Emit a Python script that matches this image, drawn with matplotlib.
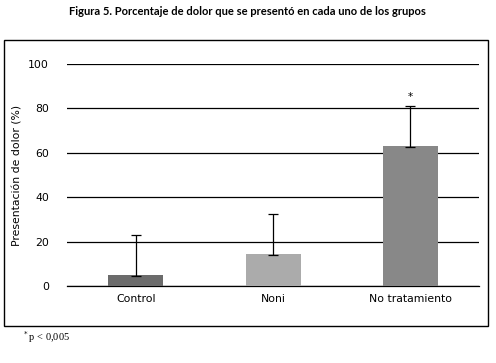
#!/usr/bin/env python3
import matplotlib.pyplot as plt
from matplotlib.patches import Rectangle
import numpy as np

groups = ["Control", "Noni", "No tratamiento"]
pain_pct = [5.0, 14.5, 63.0]
err_low = [0.5, 0.5, 0.5]
err_high = [18.0, 18.0, 18.0]
bar_colors = ["#6b6b6b", "#ababab", "#888888"]
yticks = [0, 20, 40, 60, 80, 100]

fig = plt.figure(figsize=(4.96, 3.63), dpi=100)

# outer frame around the chart
fig.patches.append(Rectangle((0.008, 0.102), 0.976, 0.788, transform=fig.transFigure,
                             fill=False, edgecolor="black", linewidth=1.0))

ax = fig.add_axes([0.135, 0.212, 0.831, 0.612])
x = np.arange(len(groups))
ax.bar(x, pain_pct, width=0.4, color=bar_colors, zorder=3,
       yerr=[err_low, err_high], capsize=3.5,
       error_kw=dict(ecolor="black", elinewidth=0.9, capthick=0.9, zorder=4))

ax.set_xlim(-0.5, len(groups) - 0.5)
ax.set_ylim(0, 100)
ax.set_yticks(yticks)
ax.yaxis.grid(True, color="black", linewidth=0.9, zorder=0)
ax.set_axisbelow(True)
for side in ["left", "right", "top"]:
    ax.spines[side].set_visible(False)
ax.spines["bottom"].set_linewidth(0.9)
ax.tick_params(axis="y", length=0, pad=13, labelsize=7.8)
ax.tick_params(axis="x", length=0, pad=6, labelsize=7.8)
ax.set_xticks(x)
ax.set_xticklabels(groups)
ax.set_ylabel("Presentación de dolor (%)", fontsize=7.8, labelpad=4)

ax.text(2, 85, "*", ha="center", va="center", fontsize=7.5)

fig.text(0.498, 0.967, "Figura 5. Porcentaje de dolor que se presentó en cada uno de los grupos",
         ha="center", va="center", fontsize=8, fontweight="bold", family="Lato")
fig.text(0.045, 0.072, "$^*$p < 0,005", ha="left", va="center", fontsize=7.5,
         family="Liberation Serif")

fig.savefig("out.png", dpi=100)
plt.close(fig)
